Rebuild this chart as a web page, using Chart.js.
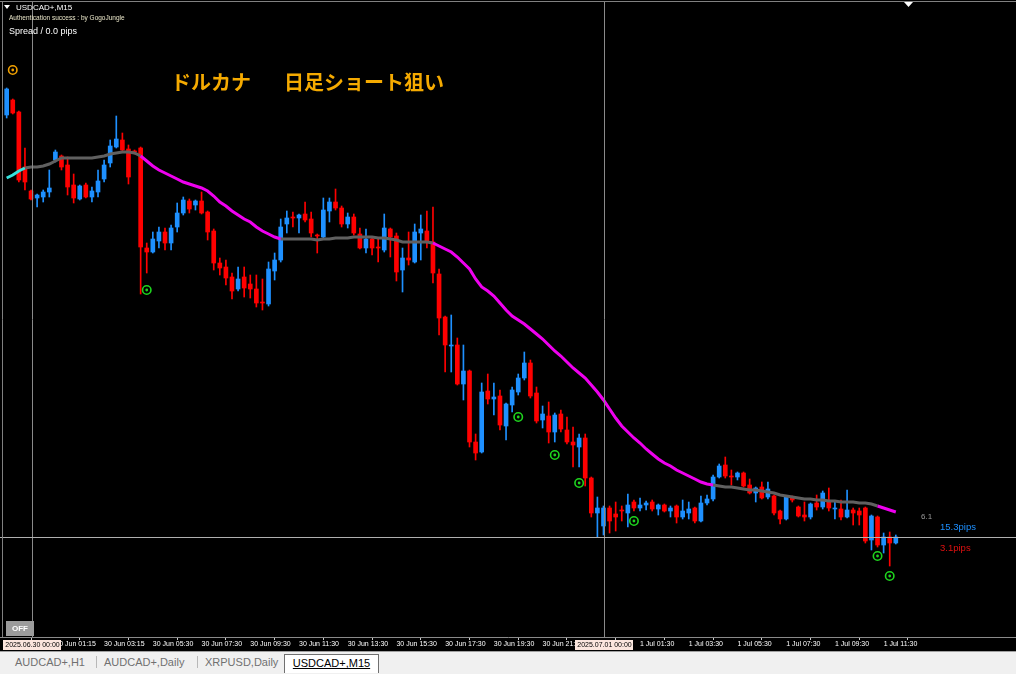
<!DOCTYPE html>
<html><head><meta charset="utf-8">
<script src="https://cdn.jsdelivr.net/npm/chart.js@4.4.1/dist/chart.umd.min.js"></script>
<style>
html,body{margin:0;padding:0;background:#000;width:1016px;height:674px;overflow:hidden;}
#wrap{position:absolute;left:0;top:0;width:1016px;height:651px;}
#tabs{position:absolute;left:0;top:651px;width:1016px;height:23px;background:#f0f0f0;border-top:1px solid #a0a0a0;box-sizing:border-box;font-family:'Liberation Sans',sans-serif;font-size:11px;color:#707070;}
.tab{position:absolute;top:4px;white-space:nowrap;}
.sep{position:absolute;top:4px;width:1px;height:12px;background:#b8b8b8;}
#active{position:absolute;left:284px;top:2px;width:95px;height:19px;background:#fff;border:1px solid #707070;border-bottom:none;box-sizing:border-box;color:#000;text-align:center;line-height:17px;}
#active span{text-decoration:underline;}
</style></head>
<body>
<div id="wrap"><canvas id="c" width="1016" height="651"></canvas></div>
<div id="tabs">
  <div class="tab" style="left:15px">AUDCAD+,H1</div>
  <div class="sep" style="left:96px"></div>
  <div class="tab" style="left:104px">AUDCAD+,Daily</div>
  <div class="sep" style="left:197px"></div>
  <div class="tab" style="left:205px">XRPUSD,Daily</div>
  <div id="active"><span>USDCAD+,M15</span></div>
</div>
<script>
// ---- data (USDCAD+, M15) ----
const open = [1.37155,1.37200,1.37164,1.36999,1.36927,1.36906,1.36909,1.36924,1.37020,1.37032,
1.37005,1.36945,1.36903,1.36945,1.36909,1.36924,1.36963,1.37011,1.37059,1.37080,
1.37053,1.37047,1.37056,1.36756,1.36744,1.36777,1.36804,1.36771,1.36819,1.36861,
1.36897,1.36885,1.36897,1.36864,1.36807,1.36711,1.36699,1.36669,1.36633,1.36669,
1.36648,1.36633,1.36594,1.36588,1.36687,1.36720,1.36828,1.36849,1.36846,1.36858,
1.36843,1.36795,1.36789,1.36867,1.36894,1.36876,1.36828,1.36849,1.36798,1.36756,
1.36783,1.36759,1.36750,1.36813,1.36792,1.36690,1.36726,1.36714,1.36801,1.36807,
1.36774,1.36678,1.36549,1.36462,1.36465,1.36348,1.36387,1.36174,1.36144,1.36327,
1.36303,1.36312,1.36222,1.36285,1.36324,1.36366,1.36411,1.36321,1.36240,1.36252,
1.36204,1.36258,1.36210,1.36174,1.36159,1.36186,1.36066,1.35961,1.35922,1.35976,
1.35958,1.35970,1.35961,1.35994,1.35976,1.35985,1.35994,1.35973,1.35985,1.35967,
1.35982,1.35949,1.35961,1.35976,1.35937,1.35991,1.36003,1.36069,1.36105,1.36072,
1.36069,1.36081,1.36045,1.36021,1.36039,1.36009,1.36012,1.35967,1.35943,1.36006,
1.35979,1.35955,1.35949,1.35991,1.35979,1.35997,1.35973,1.35973,1.35949,1.35970,
1.35967,1.35976,1.35880,1.35949,1.35865,1.35889,1.35871];
const high = [1.37236,1.37203,1.37167,1.37056,1.36930,1.36918,1.36930,1.36990,1.37050,1.37035,
1.37029,1.36978,1.36945,1.36951,1.36939,1.36990,1.37020,1.37080,1.37152,1.37101,
1.37065,1.37050,1.37059,1.36771,1.36804,1.36819,1.36816,1.36825,1.36891,1.36909,
1.36903,1.36900,1.36924,1.36867,1.36813,1.36726,1.36720,1.36681,1.36699,1.36699,
1.36675,1.36675,1.36663,1.36714,1.36741,1.36843,1.36867,1.36864,1.36858,1.36894,
1.36864,1.36798,1.36906,1.36906,1.36933,1.36882,1.36861,1.36858,1.36816,1.36813,
1.36789,1.36786,1.36858,1.36816,1.36801,1.36756,1.36804,1.36828,1.36855,1.36867,
1.36879,1.36693,1.36552,1.36555,1.36486,1.36465,1.36390,1.36198,1.36351,1.36378,
1.36351,1.36330,1.36291,1.36339,1.36378,1.36444,1.36420,1.36339,1.36282,1.36294,
1.36261,1.36270,1.36249,1.36219,1.36198,1.36198,1.36069,1.36009,1.35982,1.35982,
1.35994,1.35982,1.36018,1.36000,1.36006,1.35997,1.36000,1.35988,1.35988,1.35982,
1.35985,1.36000,1.35994,1.35979,1.36012,1.36015,1.36075,1.36108,1.36129,1.36090,
1.36084,1.36084,1.36063,1.36039,1.36054,1.36054,1.36015,1.35970,1.36012,1.36012,
1.35982,1.35994,1.35991,1.36015,1.36027,1.36036,1.35994,1.36000,1.36030,1.35976,
1.35976,1.35979,1.35955,1.35952,1.35901,1.35904,1.35895];
const low = [1.37146,1.37158,1.36954,1.36930,1.36900,1.36879,1.36894,1.36909,1.37014,1.36990,
1.36915,1.36891,1.36900,1.36906,1.36894,1.36909,1.36954,1.36999,1.37056,1.37044,
1.36948,1.37038,1.36618,1.36681,1.36741,1.36756,1.36750,1.36750,1.36804,1.36855,
1.36861,1.36870,1.36858,1.36780,1.36690,1.36675,1.36645,1.36603,1.36627,1.36609,
1.36606,1.36579,1.36570,1.36582,1.36660,1.36714,1.36801,1.36819,1.36801,1.36834,
1.36789,1.36741,1.36786,1.36834,1.36870,1.36819,1.36816,1.36795,1.36753,1.36741,
1.36735,1.36714,1.36744,1.36729,1.36657,1.36624,1.36705,1.36711,1.36720,1.36756,
1.36651,1.36495,1.36384,1.36384,1.36345,1.36300,1.36159,1.36120,1.36141,1.36288,
1.36255,1.36210,1.36180,1.36264,1.36315,1.36360,1.36306,1.36231,1.36216,1.36171,
1.36174,1.36204,1.36168,1.36099,1.36099,1.36042,1.35949,1.35889,1.35895,1.35901,
1.35907,1.35937,1.35919,1.35967,1.35967,1.35970,1.35967,1.35955,1.35964,1.35949,
1.35931,1.35943,1.35943,1.35931,1.35934,1.35985,1.35997,1.36066,1.36066,1.36045,
1.36060,1.36039,1.36018,1.35994,1.36003,1.36003,1.35955,1.35928,1.35940,1.35994,
1.35949,1.35937,1.35943,1.35970,1.35973,1.35967,1.35943,1.35940,1.35946,1.35925,
1.35925,1.35871,1.35850,1.35859,1.35841,1.35802,1.35868];
const close = [1.37233,1.37161,1.36960,1.36954,1.36903,1.36915,1.36924,1.36936,1.37044,1.36999,
1.36939,1.36906,1.36942,1.36909,1.36927,1.36957,1.37005,1.37062,1.37083,1.37050,
1.36969,1.37044,1.36759,1.36744,1.36783,1.36804,1.36771,1.36816,1.36861,1.36900,
1.36873,1.36897,1.36861,1.36804,1.36711,1.36696,1.36666,1.36627,1.36663,1.36636,
1.36633,1.36591,1.36591,1.36693,1.36720,1.36819,1.36846,1.36846,1.36855,1.36840,
1.36801,1.36792,1.36870,1.36894,1.36876,1.36828,1.36849,1.36801,1.36756,1.36783,
1.36756,1.36756,1.36816,1.36789,1.36684,1.36726,1.36720,1.36804,1.36813,1.36774,
1.36681,1.36546,1.36465,1.36465,1.36348,1.36387,1.36174,1.36141,1.36324,1.36303,
1.36309,1.36225,1.36288,1.36330,1.36366,1.36411,1.36312,1.36237,1.36258,1.36204,
1.36255,1.36213,1.36174,1.36165,1.36186,1.36066,1.35961,1.35976,1.35976,1.35937,
1.35949,1.35967,1.35985,1.35976,1.35985,1.35991,1.35973,1.35985,1.35967,1.35976,
1.35949,1.35967,1.35973,1.35937,1.35991,1.36003,1.36069,1.36102,1.36072,1.36069,
1.36081,1.36042,1.36021,1.36036,1.36006,1.36033,1.35961,1.35943,1.36009,1.36000,
1.35952,1.35949,1.35988,1.35979,1.36021,1.35976,1.35976,1.35949,1.35970,1.35961,
1.35955,1.35877,1.35952,1.35865,1.35889,1.35871,1.35889];
// moving average and its trend colouring (run lengths)
const ma = [1.36966,1.36975,1.36987,1.36996,1.36999,1.36999,1.37002,1.37008,1.37017,1.37026,
1.37026,1.37026,1.37026,1.37026,1.37026,1.37029,1.37032,1.37038,1.37041,1.37044,
1.37044,1.37041,1.37032,1.37017,1.37002,1.36990,1.36981,1.36972,1.36963,1.36954,
1.36948,1.36942,1.36936,1.36927,1.36912,1.36894,1.36882,1.36867,1.36855,1.36843,
1.36834,1.36819,1.36807,1.36798,1.36789,1.36783,1.36783,1.36783,1.36783,1.36783,
1.36783,1.36780,1.36783,1.36783,1.36786,1.36786,1.36786,1.36789,1.36789,1.36789,
1.36789,1.36786,1.36786,1.36783,1.36780,1.36774,1.36774,1.36774,1.36774,1.36774,
1.36771,1.36762,1.36753,1.36744,1.36729,1.36711,1.36693,1.36663,1.36639,1.36627,
1.36612,1.36591,1.36570,1.36552,1.36540,1.36528,1.36513,1.36498,1.36483,1.36465,
1.36447,1.36432,1.36414,1.36396,1.36381,1.36366,1.36345,1.36324,1.36300,1.36273,
1.36246,1.36222,1.36204,1.36186,1.36171,1.36153,1.36138,1.36123,1.36111,1.36102,
1.36090,1.36081,1.36072,1.36063,1.36054,1.36048,1.36045,1.36042,1.36039,1.36039,
1.36036,1.36033,1.36030,1.36030,1.36027,1.36024,1.36021,1.36015,1.36012,1.36009,
1.36006,1.36003,1.36003,1.36000,1.36000,1.35997,1.35997,1.35994,1.35994,1.35994,
1.35991,1.35991,1.35988,1.35982,1.35976,1.35970,1.35964];
const maTrendRuns = [['up',3],['flat',19],['down',23],['flat',25],['down',46],['flat',27],['down',4]];
// signal arrows
const signalIdx = [23, 84, 90, 94, 103, 143, 145];
const signalPrice = [1.36630, 1.36249, 1.36135, 1.36051, 1.35937, 1.35832, 1.35772];
const alertIdx = [1];
const alertPrice = [1.37290];
// time axis
const tickIdx = [8,16,24,32,40,48,56,64,72,80,88,96,104,112,120,128,136,144];
const tickLabels = ['30 Jun 01:15','30 Jun 03:15','30 Jun 05:30','30 Jun 07:30','30 Jun 09:30','30 Jun 11:30',
'30 Jun 13:30','30 Jun 15:30','30 Jun 17:30','30 Jun 19:30','30 Jun 21:30','30 Jun 23:30',
'1 Jul 01:30','1 Jul 03:30','1 Jul 05:30','1 Jul 07:30','1 Jul 09:30','1 Jul 11:30'];
const separators = [4, 98];
const sepLabels = ['2025.06.30 00:00', '2025.07.01 00:00'];

// ---- build ----
const BLUE = '#1e90ff', RED = '#ff0000';
const N = open.length;
const idx = open.map((_, i) => i);
const cols = idx.map(i => close[i] >= open[i] ? BLUE : RED);
const maTrend = [];
maTrendRuns.forEach(([t, n]) => { for (let k = 0; k < n; k++) maTrend.push(t); });
const trendColor = {up: '#35e0dc', flat: '#606060', down: '#ee00ee'};

const overlay = {
  id: 'overlay',
  beforeDraw(chart) {
    const c = chart.ctx; c.save(); c.fillStyle = '#000'; c.fillRect(0, 0, chart.width, chart.height); c.restore();
  },
  afterDatasetsDraw(chart) {
    const {ctx, chartArea: a, scales: {x, y}} = chart;
    ctx.save();
    ctx.lineWidth = 1;
    ctx.strokeStyle = '#8a8a8a';
    separators.forEach(s => {
      const px = Math.floor(x.getPixelForValue(s)) + 1.5;
      ctx.beginPath(); ctx.moveTo(px, a.top + 2); ctx.lineTo(px, a.bottom); ctx.stroke();
    });
    const by = Math.round(y.getPixelForValue(close[N - 1])) + 0.5;
    ctx.strokeStyle = '#b0b0b0';
    ctx.beginPath(); ctx.moveTo(a.left, by); ctx.lineTo(a.right, by); ctx.stroke();
    ctx.restore();
  },
  afterDraw(chart) {
    const {ctx, chartArea: a, scales: {x}} = chart;
    ctx.save();
    // frame
    ctx.strokeStyle = '#808080'; ctx.lineWidth = 1;
    ctx.beginPath(); ctx.moveTo(0, 1.5); ctx.lineTo(chart.width, 1.5); ctx.stroke();
    ctx.beginPath(); ctx.moveTo(2.5, 1.5); ctx.lineTo(2.5, a.bottom); ctx.stroke();
    // separator labels on time axis
    ctx.font = '7px "Liberation Sans", sans-serif';
    ctx.textBaseline = 'middle';
    ctx.textAlign = 'center';
    separators.forEach((s, k) => {
      const px = Math.floor(x.getPixelForValue(s)) + 1.5;
      const w = ctx.measureText(sepLabels[k]).width + 4;
      ctx.fillStyle = '#fbe6de';
      ctx.fillRect(Math.round(px - w / 2), a.bottom + 3, Math.round(w), 10);
      ctx.fillStyle = '#000';
      ctx.fillText(sepLabels[k], px, a.bottom + 8.5);
    });
    // top-left info
    ctx.textAlign = 'left';
    ctx.textBaseline = 'alphabetic';
    ctx.fillStyle = '#fff';
    ctx.beginPath(); ctx.moveTo(4, 5); ctx.lineTo(10, 5); ctx.lineTo(7, 9); ctx.closePath(); ctx.fill();
    ctx.font = '8px "Liberation Sans", sans-serif';
    ctx.fillText('USDCAD+,M15', 16, 10);
    ctx.font = '6.5px "Liberation Sans", sans-serif';
    ctx.fillStyle = '#e9e5c8';
    ctx.fillText('Authentication success : by GogoJungle', 9, 20);
    ctx.font = '9px "Liberation Sans", sans-serif';
    ctx.fillStyle = '#fff';
    ctx.fillText('Spread / 0.0 pips', 9, 34);
    // title
    ctx.font = 'bold 20px "Noto Sans CJK JP", sans-serif';
    ctx.fillStyle = '#f5aa00';
    ctx.textBaseline = 'middle';
    ctx.fillText('ドルカナ', 171, 82);
    ctx.fillText('日足ショート狙い', 284, 82);
    // right side labels
    ctx.font = '8px "Liberation Sans", sans-serif';
    ctx.fillStyle = '#9a9a9a';
    ctx.fillText('6.1', 921, 517);
    ctx.font = '9.5px "Liberation Sans", sans-serif';
    ctx.fillStyle = BLUE;
    ctx.fillText('15.3pips', 940, 527);
    ctx.fillStyle = '#e01010';
    ctx.fillText('3.1pips', 940, 548);
    // OFF button
    ctx.fillStyle = '#9c9c9c';
    ctx.fillRect(6, 621, 28, 15);
    ctx.fillStyle = '#fff';
    ctx.font = 'bold 8px "Liberation Sans", sans-serif';
    ctx.textAlign = 'center';
    ctx.fillText('OFF', 20, 629);
    // chart shift marker
    ctx.beginPath(); ctx.moveTo(904, 2); ctx.lineTo(913, 2); ctx.lineTo(908.5, 7); ctx.closePath(); ctx.fill();
    ctx.restore();
  }
};

new Chart(document.getElementById('c'), {
  data: {
    datasets: [
      {type: 'scatter', data: alertIdx.map((v, k) => ({x: v, y: alertPrice[k]})), pointRadius: 4.2, pointBorderWidth: 1.6,
       pointBorderColor: '#f0a000', pointBackgroundColor: 'rgba(0,0,0,0)', order: -2},
      {type: 'scatter', data: alertIdx.map((v, k) => ({x: v, y: alertPrice[k]})), pointRadius: 1.4, pointBorderWidth: 0,
       pointBackgroundColor: '#f0a000', order: -3},
      {type: 'scatter', data: signalIdx.map((v, k) => ({x: v, y: signalPrice[k]})), pointRadius: 4.2, pointBorderWidth: 1.6,
       pointBorderColor: '#1ed41e', pointBackgroundColor: 'rgba(0,0,0,0)', order: -2},
      {type: 'scatter', data: signalIdx.map((v, k) => ({x: v, y: signalPrice[k]})), pointRadius: 1.4, pointBorderWidth: 0,
       pointBackgroundColor: '#1ed41e', order: -3},
      {type: 'line', data: idx.map(i => ({x: i, y: ma[i]})), borderWidth: 3, pointRadius: 0, tension: 0,
       borderColor: '#606060', segment: {borderColor: c => trendColor[maTrend[c.p0DataIndex]]}, order: 0},
      {type: 'bar', data: idx.map(i => ({x: i, y: [open[i], close[i]]})), backgroundColor: cols, barThickness: 4,
       minBarLength: 1, grouped: false, order: 1},
      {type: 'bar', data: idx.map(i => ({x: i, y: [low[i], high[i]]})), backgroundColor: cols, barThickness: 1,
       grouped: false, order: 2}
    ]
  },
  options: {
    responsive: false, animation: false, devicePixelRatio: 1,
    layout: {padding: 0, autoPadding: false},
    plugins: {legend: {display: false}, tooltip: {enabled: false}},
    scales: {
      x: {
        type: 'linear', min: -1.0952, max: 165.736, offset: false,
        grid: {display: true, drawOnChartArea: false, drawTicks: true, tickLength: 3, color: '#c8c8c8'},
        border: {display: true, color: '#8a8a8a'},
        afterBuildTicks: s => { s.ticks = tickIdx.map(v => ({value: v})); },
        afterFit: s => { s.height = 14; },
        ticks: {
          autoSkip: false, maxRotation: 0, minRotation: 0, align: 'start', padding: 0,
          color: '#ffffff', font: {family: '"Liberation Sans"', size: 7, weight: 'normal'},
          callback: v => tickLabels[tickIdx.indexOf(v)]
        }
      },
      y: {type: 'linear', min: 1.35589, max: 1.37500, display: false}
    }
  },
  plugins: [overlay]
});
</script>
</body></html>
